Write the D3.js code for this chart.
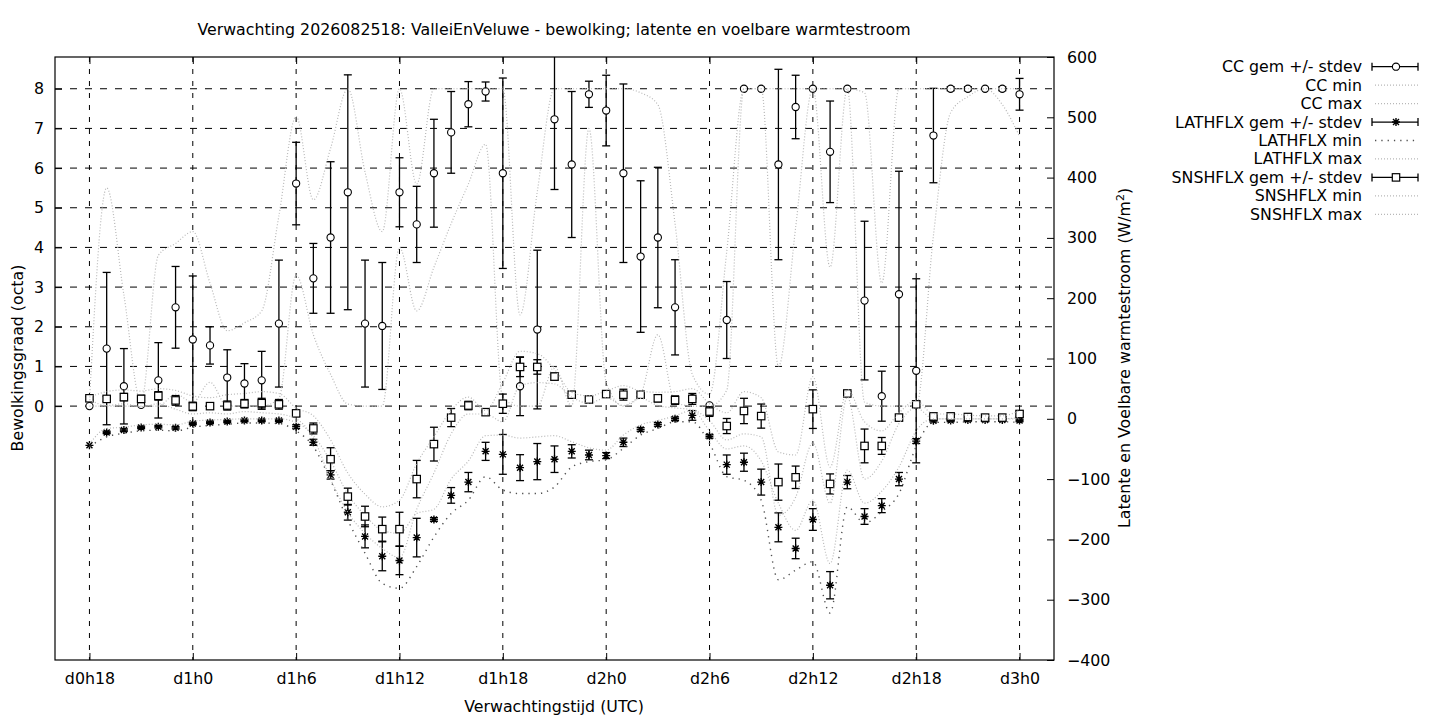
<!DOCTYPE html>
<html>
<head>
<meta charset="utf-8">
<script src="https://cdn.jsdelivr.net/npm/d3@7/dist/d3.min.js"></script>
<style>
  body { margin: 0; background: #fff; }
  text { font-family: "DejaVu Sans", sans-serif; font-size: 15.8px; fill: #000; }
</style>
</head>
<body>
<svg id="chart" width="1440" height="720"></svg>
<script>
// forecast hours since d0h0
const hours = [18, 19, 20, 21, 22, 23, 24, 25, 26, 27, 28, 29, 30, 31, 32, 33, 34, 35, 36, 37,
               38, 39, 40, 41, 42, 43, 44, 45, 46, 47, 48, 49, 50, 51, 52, 53, 54, 55, 56, 57,
               58, 59, 60, 61, 62, 63, 64, 65, 66, 67, 68, 69, 70, 71, 72];
const xTicks = [18, 24, 30, 36, 42, 48, 54, 60, 66, 72];
const xTickLabels = ['d0h18', 'd1h0', 'd1h6', 'd1h12', 'd1h18', 'd2h0', 'd2h6', 'd2h12', 'd2h18', 'd3h0'];
const yTicks = [0, 1, 2, 3, 4, 5, 6, 7, 8];
const y2Ticks = [-400, -300, -200, -100, 0, 100, 200, 300, 400, 500, 600];

// bewolking (octa)
const ccMean = [0.0, 1.45, 0.50, 0.03, 0.65, 2.49, 1.68, 1.53, 0.72, 0.57, 0.65, 2.08, 5.61, 3.22, 4.25, 5.39, 2.08, 2.02, 5.39, 4.58,
                5.87, 6.90, 7.61, 7.93, 5.87, 0.50, 1.93, 7.23, 6.09, 7.86, 7.45, 5.87, 3.77, 4.25, 2.49, 0.20, 0.02, 2.17, 8.0, 8.0,
                6.09, 7.54, 8.0, 6.41, 8.0, 2.66, 0.25, 2.82, 0.89, 6.82, 8.0, 8.0, 8.0, 8.0, 7.86];
const ccSd = [0, 1.92, 0.95, 0, 0.95, 1.03, 1.6, 0.47, 0.7, 0.5, 0.73, 1.6, 1.04, 0.88, 1.91, 2.96, 1.6, 1.6, 0.87, 0.96,
              1.36, 1.03, 0.57, 0.24, 2.4, 0.74, 2.0, 1.77, 1.84, 0.33, 0.89, 2.25, 1.91, 1.77, 1.2, 0, 0, 0.97, 0, 0,
              2.4, 0.8, 0, 1.28, 0, 2.0, 0.63, 3.1, 2.32, 1.19, 0.05, 0.05, 0, 0.05, 0.4];
const ccMin = [0, 0, 0, 0, 0, 0.3, 0.1, 0.6, 0, 0, 0, 0.2, 3.3, 1.8, 0.8, 0.05, 0, 0, 4.0, 2.4,
               3.5, 4.6, 5.6, 6.6, 0.2, 0, 0, 1.0, 0, 7.0, 0.6, 0, 0.3, 1.8, 0.1, 0, 0, 0.4, 8.0, 8.0,
               1.0, 4.5, 8.0, 3.5, 8.0, 0.1, 0, 0, 0, 4.3, 7.4, 7.8, 8.0, 7.6, 6.8];
const ccMax = [0.1, 5.5, 2.8, 0.1, 3.8, 4.1, 4.4, 3.1, 1.9, 2.1, 2.4, 4.8, 7.3, 5.2, 6.5, 8.0, 5.9, 4.4, 8.0, 5.6,
               8.0, 8.0, 8.0, 8.0, 8.0, 2.3, 5.4, 8.0, 8.0, 8.0, 8.0, 8.0, 7.9, 7.6, 4.6, 0.8, 0.3, 3.9, 8.0, 8.0,
               8.0, 8.0, 8.0, 8.0, 8.0, 7.9, 3.1, 8.0, 8.0, 8.0, 8.0, 8.0, 8.0, 8.0, 8.0];

// latente warmtestroom (W/m2)
const lhMean = [-44, -22.6, -18.7, -14.3, -13, -15, -7.7, -6, -4.4, -2.7, -2.7, -2.7, -13, -39, -93, -155, -195, -228, -235, -197,
                -167, -127, -105, -54, -59, -81, -71, -67, -54, -60, -61, -39, -17.6, -9.3, 0, 5.6, -29, -76, -72, -105,
                -180, -215, -167, -276, -105, -162, -144, -100, -37, -3.3, -2.8, -2, -2, -2, -2.8];
const lhSd = [0, 2, 2, 2, 2, 2, 2, 2, 2, 2, 2, 2, 3, 5, 7, 13, 19, 24, 23.5, 32,
              3, 13, 16, 15, 33, 21.5, 30, 22, 11, 8, 5, 7, 3, 3, 3, 8, 3, 16, 15, 21.5,
              24, 17, 18, 22.6, 11, 13, 11.6, 11, 4, 2, 2, 2, 2, 2, 2];
const lhMin = [-46, -30, -24, -20, -19, -20, -14, -11, -9, -7, -7, -8, -20, -46, -102, -168, -223, -273, -281, -245,
               -196, -157, -135, -96, -118, -124, -124, -113, -80, -71, -68, -49, -27, -16, -5, -5, -41, -96, -102, -135,
               -267, -251, -237, -322, -146, -173, -154, -124, -46, -6, -6, -5, -5, -5, -6];
const lhMax = [-42, -16, -14, -10, -9, -10, -4, -2, -1, 0, 0, 0, -6, -28, -70, -125, -160, -185, -190, -157,
               -150, -100, -70, -28, -27, -32, -30, -28, -38, -48, -52, -27, -10, -3, 5, 14, -20, -50, -45, -70,
               -140, -185, -135, -240, -85, -140, -120, -80, -20, 0, 0, 0, 0, 0, 0];

// voelbare warmtestroom (W/m2)
const shMean = [34, 33, 36, 33, 38, 30.5, 20.5, 21, 22, 25, 26, 24, 9, -16, -67, -129, -162, -183, -183, -100,
                -42, 2, 22, 11, 25, 86, 86, 70, 40, 32, 41, 40, 40, 34, 31, 33, 12, -12, 13, 4.5,
                -105, -97, 16, -108, 42, -45, -45, 2, 24, 4, 4, 3, 2, 2, 8];
const shSd = [3, 4, 6, 6, 7, 8, 7, 5, 7.5, 7, 8, 8, 5, 9, 19, 14, 17, 20, 28, 31,
              28, 15, 7, 2, 16, 16, 12, 6, 2, 3, 3, 9, 3, 6, 7, 9, 8, 12.5, 21, 20,
              30, 18.6, 32, 16.6, 3, 28, 14, 5, 4, 3, 3, 2, 2, 2, 5];
const shMin = [32, 22, 25, 20, 25, 16, 8, 10, 8, 12, 10, 8, 0, -32, -100, -155, -190, -215, -230, -150,
               -90, -25, 8, 8, -5, 55, 60, 58, 36, 26, 35, 22, 34, 22, 18, 15, -3, -35, -25, -30,
               -160, -130, -40, -140, 36, -100, -70, -8, 18, 0, 0, 0, 0, 0, 2];
const shMax = [36, 45, 48, 46, 50, 47, 38, 35, 40, 42, 45, 42, 18, 5, -35, -90, -125, -146, -135, -74,
               -30, 14, 36, 14, 60, 112, 108, 82, 44, 38, 46, 55, 46, 44, 45, 50, 25, 10, 45, 35,
               -55, -60, 70, -80, 48, -5, -20, 10, 30, 8, 8, 6, 5, 5, 14];

const svg = d3.select('#chart'),
    plot = { left: 55, right: 1054, top: 57, bottom: 660 },
    light = '#b8b8b8',
    dark = '#505050',
    fontSize = '15.8px';

const x = d3.scaleLinear().domain([16, 74]).range([plot.left, plot.right]);
const y = d3.scaleLinear().domain([-6.4, 8.8]).range([plot.bottom, plot.top]);
const y2 = d3.scaleLinear().domain([-400, 600]).range([plot.bottom, plot.top]);

svg.append('defs').append('clipPath').attr('id', 'clip')
    .append('rect')
    .attr('x', plot.left).attr('y', plot.top)
    .attr('width', plot.right - plot.left).attr('height', plot.bottom - plot.top);

// grid
let grid = svg.append('g').attr('stroke', '#000').attr('stroke-width', 1);
grid.selectAll('.gx').data(xTicks).enter().append('line')
    .attr('x1', d => x(d)).attr('x2', d => x(d))
    .attr('y1', plot.top).attr('y2', plot.bottom)
    .attr('stroke-dasharray', '5,7');
grid.selectAll('.gy').data(yTicks).enter().append('line')
    .attr('x1', plot.left).attr('x2', plot.right)
    .attr('y1', d => y(d)).attr('y2', d => y(d))
    .attr('stroke-dasharray', '7,8');

// axes (ticks pointing inward)
function styleAxis(g) {
    g.select('.domain').remove();
    g.selectAll('line').attr('stroke', '#000');
    g.selectAll('text').style('font-size', fontSize).style('font-family', '"DejaVu Sans", sans-serif');
}
svg.append('g').attr('transform', 'translate(0,' + plot.bottom + ')')
    .call(d3.axisBottom(x).tickValues(xTicks).tickFormat((d, i) => xTickLabels[i]).tickSizeInner(-7).tickSizeOuter(0).tickPadding(13))
    .call(styleAxis);
svg.append('g').attr('transform', 'translate(0,' + plot.top + ')')
    .call(d3.axisTop(x).tickValues(xTicks).tickFormat('').tickSizeInner(-7).tickSizeOuter(0))
    .call(styleAxis);
svg.append('g').attr('transform', 'translate(' + plot.left + ',0)')
    .call(d3.axisLeft(y).tickValues(yTicks).tickFormat(d3.format('d')).tickSizeInner(-7).tickSizeOuter(0).tickPadding(11))
    .call(styleAxis);
svg.append('g').attr('transform', 'translate(' + plot.right + ',0)')
    .call(d3.axisRight(y2).tickValues(y2Ticks).tickFormat(d3.format('d')).tickSizeInner(-7).tickSizeOuter(0).tickPadding(13))
    .call(styleAxis);

svg.append('rect')
    .attr('x', plot.left).attr('y', plot.top)
    .attr('width', plot.right - plot.left).attr('height', plot.bottom - plot.top)
    .attr('fill', 'none').attr('stroke', '#000').attr('stroke-width', 1.2);

// markers
const markers = {
    circle: g => g.append('circle').attr('r', 3.6).attr('fill', '#fff').attr('stroke', '#000').attr('stroke-width', 1.1),
    star: g => g.append('path').attr('d', 'M-4,0H4M0,-4V4M-3,-3L3,3M-3,3L3,-3')
        .attr('fill', 'none').attr('stroke', '#000').attr('stroke-width', 1.4),
    square: g => g.append('rect').attr('x', -3.7).attr('y', -3.7).attr('width', 7.4).attr('height', 7.4)
        .attr('fill', '#fff').attr('stroke', '#000').attr('stroke-width', 1.2)
};

let data = svg.append('g').attr('clip-path', 'url(#clip)');

function errSeries(mean, sd, scale, marker) {
    let pts = hours.map((h, i) => ({ h: h, m: mean[i], s: sd[i] }));
    let g = data.append('g');
    let bars = g.selectAll('.bar').data(pts.filter(d => d.s > 0)).enter().append('g')
        .attr('stroke', '#000').attr('stroke-width', 1.3);
    bars.append('line')
        .attr('x1', d => x(d.h)).attr('x2', d => x(d.h))
        .attr('y1', d => scale(d.m - d.s)).attr('y2', d => scale(d.m + d.s));
    bars.append('line')
        .attr('x1', d => x(d.h) - 4).attr('x2', d => x(d.h) + 4)
        .attr('y1', d => scale(d.m - d.s)).attr('y2', d => scale(d.m - d.s));
    bars.append('line')
        .attr('x1', d => x(d.h) - 4).attr('x2', d => x(d.h) + 4)
        .attr('y1', d => scale(d.m + d.s)).attr('y2', d => scale(d.m + d.s));
    g.selectAll('.pt').data(pts).enter().append('g')
        .attr('transform', d => 'translate(' + x(d.h) + ',' + scale(d.m) + ')')
        .each(function () { markers[marker](d3.select(this)); });
}

function envLine(values, scale, color, dash, width) {
    let line = d3.line().x((d, i) => x(hours[i])).y(d => scale(d)).curve(d3.curveMonotoneX);
    data.append('path').datum(values)
        .attr('d', line)
        .attr('fill', 'none')
        .attr('stroke', color)
        .attr('stroke-width', width)
        .attr('stroke-dasharray', dash);
}

errSeries(ccMean, ccSd, y, 'circle');
envLine(ccMin, y, light, '1,2', 1.2);
envLine(ccMax, y, light, '1,2', 1.2);
errSeries(lhMean, lhSd, y2, 'star');
envLine(lhMin, y2, dark, '1.3,5', 1.4);
envLine(lhMax, y2, light, '1,2', 1.2);
errSeries(shMean, shSd, y2, 'square');
envLine(shMin, y2, light, '1,2', 1.2);
envLine(shMax, y2, light, '1,2', 1.2);

// titles
svg.append('text').attr('x', 554).attr('y', 35).attr('text-anchor', 'middle')
    .text('Verwachting 2026082518: ValleiEnVeluwe - bewolking; latente en voelbare warmtestroom');
svg.append('text').attr('x', 554).attr('y', 712).attr('text-anchor', 'middle')
    .text('Verwachtingstijd (UTC)');
svg.append('text').attr('transform', 'translate(23,358) rotate(-90)').attr('text-anchor', 'middle')
    .text('Bewolkingsgraad (octa)');
let r = svg.append('text').attr('transform', 'translate(1130,358) rotate(-90)').attr('text-anchor', 'middle');
r.append('tspan').text('Latente en Voelbare warmtestroom (W/m');
r.append('tspan').attr('dy', -6).style('font-size', '11px').text('2');
r.append('tspan').attr('dy', 6).text(')');

// legend
const keyLabels = ['CC gem +/- stdev', 'CC min', 'CC max', 'LATHFLX gem +/- stdev', 'LATHFLX min', 'LATHFLX max',
                   'SNSHFLX gem +/- stdev', 'SNSHFLX min', 'SNSHFLX max'];
const keyKinds = ['circle', 'light', 'light', 'star', 'dark', 'light', 'square', 'light', 'light'];
let key = svg.append('g');
keyLabels.forEach((lab, i) => {
    let ky = 66.7 + i * 18.45;
    key.append('text').attr('x', 1362).attr('y', ky).attr('dy', '0.35em').attr('text-anchor', 'end').text(lab);
    let kind = keyKinds[i];
    if (markers[kind]) {
        let s = key.append('g').attr('stroke', '#000').attr('stroke-width', 1.3);
        s.append('line').attr('x1', 1372).attr('x2', 1418).attr('y1', ky).attr('y2', ky);
        s.append('line').attr('x1', 1372).attr('x2', 1372).attr('y1', ky - 4).attr('y2', ky + 4);
        s.append('line').attr('x1', 1418).attr('x2', 1418).attr('y1', ky - 4).attr('y2', ky + 4);
        markers[kind](key.append('g').attr('transform', 'translate(1396,' + ky + ')'));
    } else {
        key.append('line').attr('x1', 1375).attr('x2', 1418).attr('y1', ky).attr('y2', ky)
            .attr('stroke', kind === 'dark' ? dark : light)
            .attr('stroke-width', kind === 'dark' ? 1.4 : 1.2)
            .attr('stroke-dasharray', kind === 'dark' ? '1.3,5' : '1,2');
    }
});
</script>
</body>
</html>
